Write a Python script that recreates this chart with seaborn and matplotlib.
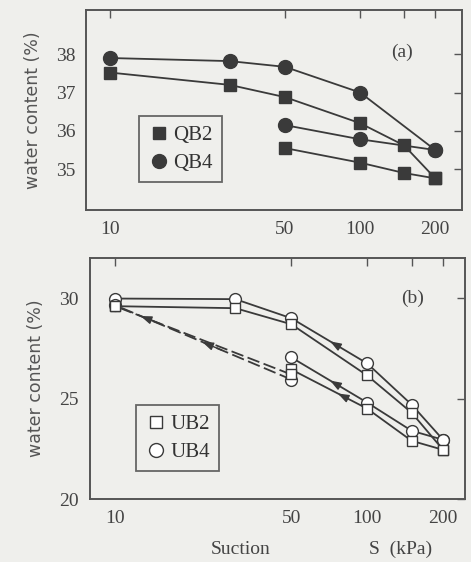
import numpy as np
import pandas as pd
import seaborn as sns
from matplotlib import pyplot as plt

# panel (a): QB2 / QB4
qb_dry_s = [10, 30, 50, 100, 150, 200]
qb2_dry_w = [37.52, 37.2, 36.88, 36.2, 35.62, 34.76]
qb4_dry_w = [37.9, 37.82, 37.67, 37.0, None, 35.5]
qb_wet_s = [200, 150, 100, 50]
qb2_wet_w = [34.76, 34.9, 35.17, 35.55]
qb4_wet_w = [35.5, None, 35.78, 36.15]

# panel (b): UB2 / UB4
ub_dry_s = [10, 30, 50, 100, 150, 200]
ub2_dry_w = [29.6, 29.5, 28.7, 26.15, 24.3, 22.45]
ub4_dry_w = [29.98, 29.95, 29.0, 26.75, 24.7, 22.95]
ub_wet_s = [200, 150, 100, 50]
ub2_wet_w = [22.45, 22.9, 24.5, 26.45]
ub4_wet_w = [22.95, 23.4, 24.8, 27.05]
ub_back_s = [50, 10]
ub2_back_w = [26.2, 29.6]
ub4_back_w = [25.95, 29.65]

x_ticks = [10, 50, 100, 150, 200]
x_labels = ["10", "50", "100", "", "200"]

INK = "#3a3a3a"
BG = "#efefec"
SERIF = "Liberation Serif"


def frame(s, w):
    return pd.DataFrame({"s": s, "w": w}).dropna()


def draw(ax, s, w, marker, filled, ms, dashed=False):
    sns.lineplot(data=frame(s, w), x="s", y="w", sort=False, ax=ax, color=INK,
                 lw=1.3, linestyle=(0, (7, 2.5)) if dashed else "-",
                 marker=marker, markersize=ms,
                 markerfacecolor=INK if filled else "white",
                 markeredgecolor=INK, markeredgewidth=1.0, legend=False)


def arrow(ax, s, w, i, at=0.5, forward=True):
    # small arrowhead on the segment between point i and i+1 (log-x space)
    x0, x1 = np.log10(s[i]), np.log10(s[i + 1])
    y0, y1 = w[i], w[i + 1]
    if not forward:
        x0, x1, y0, y1 = x1, x0, y1, y0
        at = 1 - at
    a = (10 ** (x0 + (at - 0.07) * (x1 - x0)), y0 + (at - 0.07) * (y1 - y0))
    b = (10 ** (x0 + (at + 0.07) * (x1 - x0)), y0 + (at + 0.07) * (y1 - y0))
    ax.annotate("", xy=b, xytext=a,
                arrowprops=dict(arrowstyle="-|>,head_length=0.55,head_width=0.2",
                                color=INK, lw=1.0))


def style(ax, xlim, ylim, yticks):
    ax.set_xscale("log")
    ax.set_xlim(*xlim)
    ax.set_ylim(*ylim)
    ax.set_xticks(x_ticks)
    ax.set_xticklabels(x_labels, fontfamily=SERIF, fontsize=14, color="#444444")
    ax.minorticks_off()
    ax.set_yticks(yticks)
    ax.set_yticklabels([str(t) for t in yticks], fontfamily=SERIF, fontsize=14,
                       color="#444444")
    ax.tick_params(direction="in", length=6, width=1.0, color="#555555",
                   top=True, right=True, labelright=False, labeltop=False, pad=8)
    ax.set_facecolor(BG)
    for sp in ax.spines.values():
        sp.set_color("#555555")
        sp.set_linewidth(1.4)
    ax.set_xlabel("")
    ax.set_ylabel("water content (%)", fontsize=12.5, color="#555555",
                  fontfamily="DejaVu Sans", labelpad=10)


def legend(ax, labels, filled, loc):
    handles = [
        plt.Line2D([], [], ls="none", marker="s", markersize=9,
                   markerfacecolor=INK if filled else "white", markeredgecolor=INK),
        plt.Line2D([], [], ls="none", marker="o", markersize=10,
                   markerfacecolor=INK if filled else "white", markeredgecolor=INK),
    ]
    leg = ax.legend(handles, labels, loc="upper left", bbox_to_anchor=loc,
                    frameon=True, fancybox=False, handletextpad=0.2,
                    handlelength=1.0, borderpad=0.45, labelspacing=0.4,
                    borderaxespad=0, prop={"family": SERIF, "size": 15})
    leg.get_frame().set_edgecolor("#444444")
    leg.get_frame().set_linewidth(1.3)
    leg.get_frame().set_facecolor(BG)
    for t in leg.get_texts():
        t.set_color("#333333")


sns.set_theme(style="white")
fig = plt.figure(figsize=(4.71, 5.62), dpi=100, facecolor=BG)
ax1 = fig.add_axes([0.183, 0.626, 0.798, 0.356])
ax2 = fig.add_axes([0.191, 0.112, 0.796, 0.429])

# (a)
draw(ax1, qb_dry_s, qb4_dry_w, "o", True, 10)
draw(ax1, qb_dry_s, qb2_dry_w, "s", True, 8.5)
draw(ax1, qb_wet_s, qb4_wet_w, "o", True, 10)
draw(ax1, qb_wet_s, qb2_wet_w, "s", True, 8.5)
style(ax1, (8.0, 256), (33.93, 39.15), [35, 36, 37, 38])
ax1.text(0.84, 0.79, "(a)", transform=ax1.transAxes, ha="center", va="center",
         fontfamily=SERIF, fontsize=14, color="#444444")
legend(ax1, ["QB2", "QB4"], True, (0.14, 0.47))

# (b)
draw(ax2, ub_dry_s, ub4_dry_w, "o", False, 8.5)
draw(ax2, ub_dry_s, ub2_dry_w, "s", False, 7.5)
draw(ax2, ub_wet_s, ub4_wet_w, "o", False, 8.5)
draw(ax2, ub_wet_s, ub2_wet_w, "s", False, 7.5)
draw(ax2, ub_back_s, ub4_back_w, "o", False, 8.5, dashed=True)
draw(ax2, ub_back_s, ub2_back_w, "s", False, 7.5, dashed=True)
arrow(ax2, ub_dry_s, ub4_dry_w, 2, at=0.55, forward=False)
arrow(ax2, ub_wet_s, ub4_wet_w, 2, at=0.45)
arrow(ax2, ub_wet_s, ub2_wet_w, 2, at=0.35)
arrow(ax2, ub_back_s, ub4_back_w, 0, at=0.45)
arrow(ax2, ub_back_s, ub2_back_w, 0, at=0.8)
style(ax2, (7.95, 244), (20, 32), [20, 25, 30])
ax2.text(0.86, 0.834, "(b)", transform=ax2.transAxes, ha="center", va="center",
         fontfamily=SERIF, fontsize=14, color="#444444")
legend(ax2, ["UB2", "UB4"], False, (0.123, 0.39))

fig.text(0.51, 0.022, "Suction", ha="center", va="center",
         fontfamily=SERIF, fontsize=14, color="#444444")
fig.text(0.85, 0.022, "S  (kPa)", ha="center", va="center",
         fontfamily=SERIF, fontsize=14, color="#444444")

fig.savefig("out.png", dpi=100, facecolor=BG)
